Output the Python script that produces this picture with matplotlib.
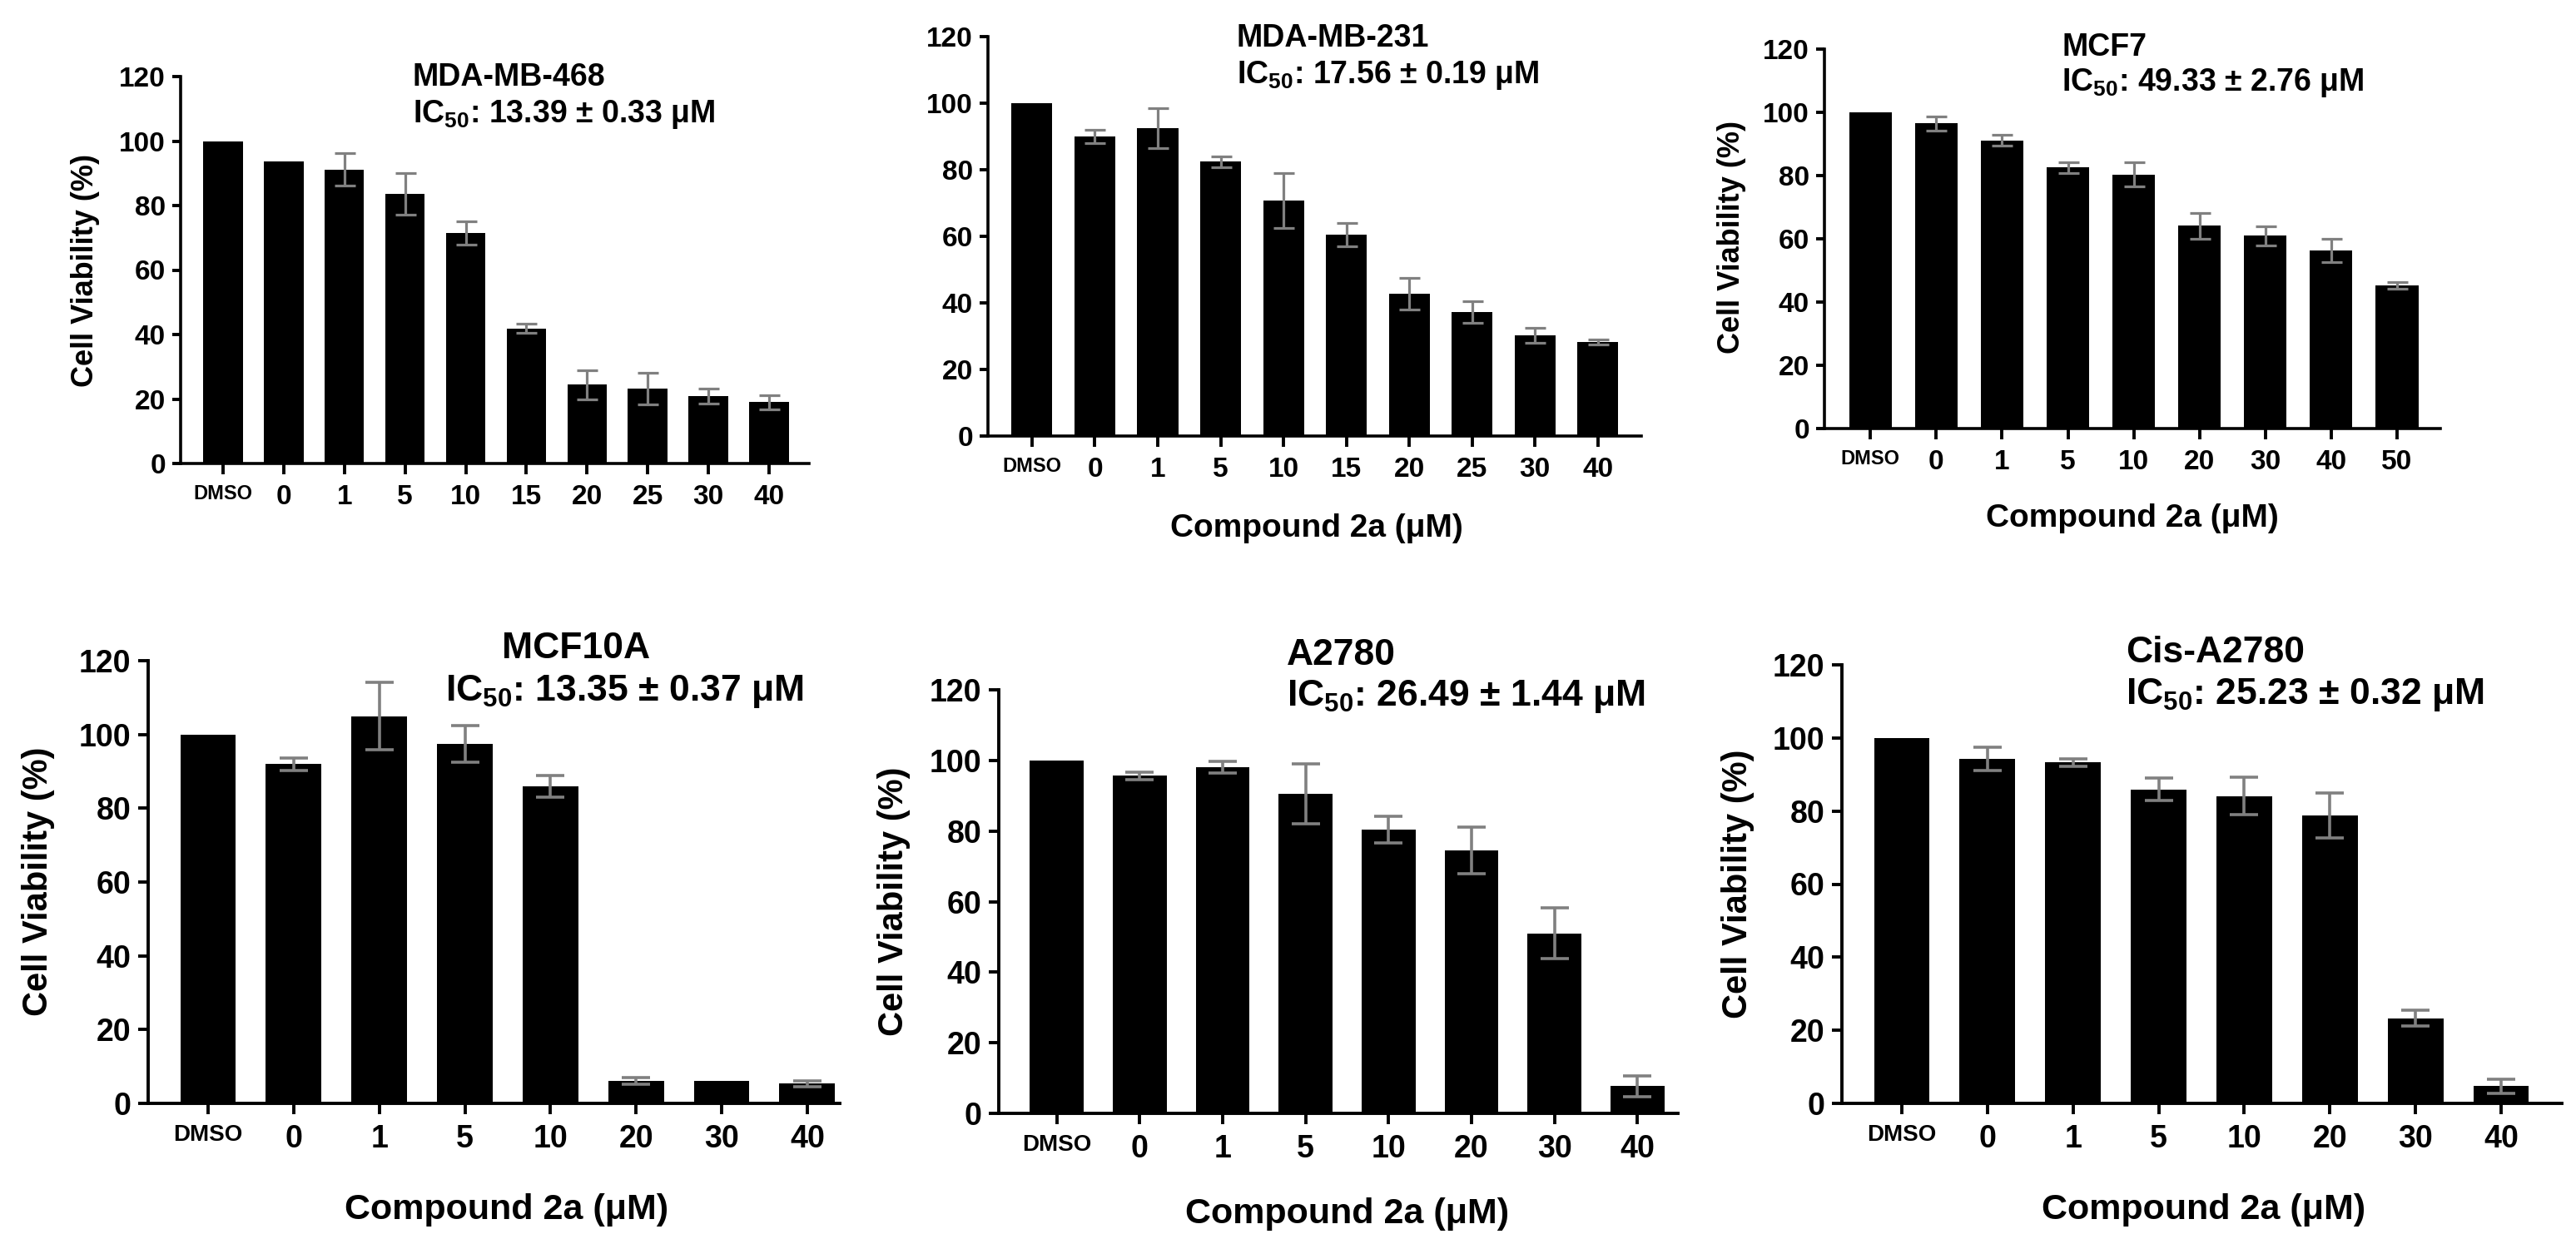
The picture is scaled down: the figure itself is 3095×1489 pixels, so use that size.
import numpy as np
import matplotlib
matplotlib.use('Agg')
import matplotlib.pyplot as plt

plt.rcParams['font.family'] = ['Liberation Sans', 'DejaVu Sans']
plt.rcParams['font.weight'] = 'bold'
plt.rcParams['mathtext.fontset'] = 'custom'
plt.rcParams['mathtext.rm'] = 'Liberation Sans'
plt.rcParams['mathtext.default'] = 'rm'

# ---- data (cell viability %, mean and error) ----
doses_a = ['DMSO', '0', '1', '5', '10', '15', '20', '25', '30', '40']
doses_mcf7 = ['DMSO', '0', '1', '5', '10', '20', '30', '40', '50']
doses_b = ['DMSO', '0', '1', '5', '10', '20', '30', '40']

via_468 = [100, 93.6, 91.2, 83.6, 71.4, 41.9, 24.4, 23.2, 20.8, 19.0]
err_468 = [0, 0, 5.0, 6.5, 3.6, 1.5, 4.4, 5.0, 2.3, 2.2]

via_231 = [100, 90.0, 92.4, 82.4, 70.7, 60.6, 42.7, 37.2, 30.2, 28.2]
err_231 = [0, 2.0, 6.0, 1.7, 8.3, 3.5, 4.8, 3.3, 2.2, 0.7]

via_mcf7 = [100, 96.5, 91.1, 82.6, 80.3, 64.1, 61.0, 56.3, 45.3]
err_mcf7 = [0, 2.3, 1.7, 1.7, 3.8, 4.0, 3.0, 3.7, 1.0]

via_10a = [100, 92.0, 105.0, 97.4, 85.9, 6.0, 6.0, 5.4]
err_10a = [0, 1.7, 9.2, 5.0, 3.0, 0.9, 0, 0.8]

via_a2780 = [100, 95.6, 98.1, 90.6, 80.4, 74.6, 51.0, 7.7]
err_a2780 = [0, 1.0, 1.6, 8.5, 3.7, 6.6, 7.2, 3.0]

via_cis = [100, 94.3, 93.3, 85.9, 84.1, 78.8, 23.3, 4.7]
err_cis = [0, 3.2, 1.0, 3.1, 5.1, 6.1, 2.2, 2.0]

W, H = 3095, 1489
fig = plt.figure(figsize=(W / 100, H / 100), dpi=100)


def panel(rect, labels, vals, errs, right_pad, big):
    left, top, right, bottom = rect
    ax = fig.add_axes([left / W, 1 - bottom / H, (right - left) / W, (bottom - top) / H])
    x = np.arange(len(labels))
    vals = np.array(vals, dtype=float)
    errs = np.array(errs, dtype=float)
    ax.bar(x, vals, width=0.65, color='black', zorder=2)
    m = errs > 0
    ax.errorbar(x[m], vals[m], yerr=errs[m], fmt='none', ecolor='#808080',
                elinewidth=2.6 if big else 2.3, capsize=12 if big else 9,
                capthick=2.6 if big else 2.3, zorder=3)
    ax.set_xlim(-0.70, len(labels) - 1 + right_pad)
    ax.set_ylim(0, 120)
    ax.set_yticks(np.arange(0, 121, 20))
    ax.set_xticks(x)
    ax.set_xticklabels(labels)
    for s in ['top', 'right']:
        ax.spines[s].set_visible(False)
    for s in ['left', 'bottom']:
        ax.spines[s].set_linewidth(2.8 if big else 2.6)
    fs = 27 if big else 24
    ax.tick_params(axis='y', direction='out', length=9 if big else 7, width=2.8,
                   pad=6, labelsize=fs)
    ax.tick_params(axis='x', direction='out', length=9, width=2.8, pad=9, labelsize=fs)
    ax.get_xticklabels()[0].set_fontsize(20 if big else 17)
    return ax


def txt(x, y, s, size, **kw):
    fig.text(x / W, 1 - y / H, s, fontsize=size, fontweight='bold', **kw)


ic = r'IC$_{50}$: '

# top row
panel((217, 92, 972, 557), doses_a, via_468, err_468, 0.66, False)
txt(496, 103, 'MDA-MB-468', 27, va='baseline')
txt(496, 147, ic + '13.39 ± 0.33 μM', 27, va='baseline')
txt(102, 325, 'Cell Viability (%)', 26, rotation=90, ha='center', va='center')

panel((1187, 44, 1972, 524), doses_a, via_231, err_231, 0.69, False)
txt(1486, 56, 'MDA-MB-231', 27, va='baseline')
txt(1486, 100, ic + '17.56 ± 0.19 μM', 27, va='baseline')
txt(1582, 635, 'Compound 2a (μM)', 28, ha='center', va='center')

panel((2192, 59, 2932, 515), doses_mcf7, via_mcf7, err_mcf7, 0.66, False)
txt(2477, 67, 'MCF7', 27, va='baseline')
txt(2477, 109, ic + '49.33 ± 2.76 μM', 27, va='baseline')
txt(2081, 285, 'Cell Viability (%)', 26, rotation=90, ha='center', va='center')
txt(2562, 623, 'Compound 2a (μM)', 28, ha='center', va='center')

# bottom row
panel((178, 794, 1009, 1326), doses_b, via_10a, err_10a, 0.38, True)
txt(692, 791, 'MCF10A', 32, ha='center', va='baseline')
txt(535, 842, ic + '13.35 ± 0.37 μM', 32, va='baseline')
txt(46, 1059, 'Cell Viability (%)', 30, rotation=90, ha='center', va='center')
txt(609, 1454, 'Compound 2a (μM)', 31, ha='center', va='center')

panel((1200, 829, 2016, 1338), doses_b, via_a2780, err_a2780, 0.49, True)
txt(1546, 799, 'A2780', 32, va='baseline')
txt(1546, 848, ic + '26.49 ± 1.44 μM', 32, va='baseline')
txt(1074, 1083, 'Cell Viability (%)', 30, rotation=90, ha='center', va='center')
txt(1619, 1459, 'Compound 2a (μM)', 31, ha='center', va='center')

panel((2213, 799, 3078, 1326), doses_b, via_cis, err_cis, 0.71, True)
txt(2554, 796, 'Cis-A2780', 32, va='baseline')
txt(2554, 846, ic + '25.23 ± 0.32 μM', 32, va='baseline')
txt(2088, 1062, 'Cell Viability (%)', 30, rotation=90, ha='center', va='center')
txt(2648, 1454, 'Compound 2a (μM)', 31, ha='center', va='center')

fig.savefig('out.png', dpi=100, facecolor='white')
